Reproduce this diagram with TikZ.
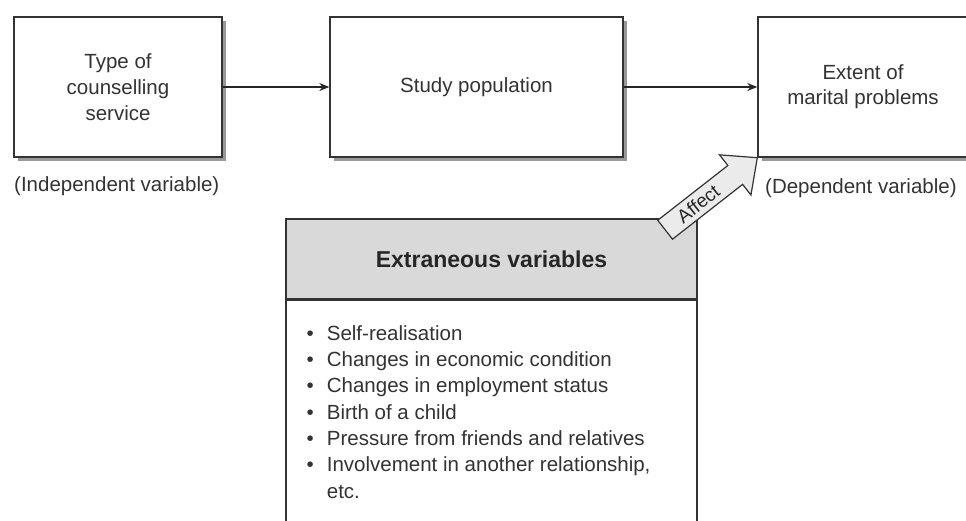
\documentclass[tikz,border=0pt]{standalone}
\usepackage{fontspec}
\setmainfont{Liberation Sans}
\usetikzlibrary{arrows.meta,shadows}
\begin{document}
\begin{tikzpicture}[x=1pt,y=-1pt,
  box/.style={draw=black!80, line width=1.4pt, fill=white, minimum width=#1,
    minimum height=140pt, align=center, font=\fontsize{20.5}{25}\selectfont,
    text=black!80, inner sep=0pt,
    drop shadow={shadow xshift=3.5pt, shadow yshift=-3.5pt, fill=black!40, opacity=1}},
  conn/.style={draw=black!85, line width=1.2pt, -{Stealth[length=10pt,width=8pt]}},
  lbl/.style={inner sep=0pt, font=\fontsize{20.5}{25}\selectfont, text=black!80},
  affectarrow/.style={draw=black!80, line width=1.2pt, fill=black!8, line join=miter}
]
\useasboundingbox (0,0) rectangle (966,520);

% top row
\node[box=208pt] (b1) at (118,87) {Type of\\[1pt]counselling\\[1pt]service};
\node[box=293pt] (b2) at (476.5,87) {Study population};
\node[box=210pt] (b3) at (863,87) {Extent of\\marital problems};
\draw[conn] (b1.east) -- (b2.west);
\draw[conn] (b2.east) -- (b3.west);

\node[lbl, anchor=west] (indep) at (14,186) {(Independent variable)};
\node[lbl, anchor=west] (dep) at (765,188) {(Dependent variable)};

% extraneous variables box
\node[draw=black!80, line width=1.4pt, fill=black!15, minimum width=411pt,
  minimum height=80pt, inner sep=0pt, text=black!85,
  font=\bfseries\fontsize{23}{28}\selectfont] (ext) at (491.5,259) {Extraneous variables};
\node[draw=black!80, line width=1.4pt, fill=white, minimum width=411pt,
  minimum height=240pt, anchor=north, inner sep=0pt] (body) at (ext.south) {};
\node[anchor=north west, inner sep=0pt, text=black!80, align=left,
  font=\fontsize{20.5}{26.3}\selectfont] (list) at (306.5,321.6)
{\begin{tabular}{@{}l@{\hspace{13pt}}l@{}}
\textbullet & Self-realisation\\
\textbullet & Changes in economic condition\\
\textbullet & Changes in employment status\\
\textbullet & Birth of a child\\
\textbullet & Pressure from friends and relatives\\
\textbullet & Involvement in another relationship,\\
 & etc.
\end{tabular}};

% affect arrow
\begin{scope}[shift={(b3.south west)}, rotate=38]
  \draw[affectarrow] (0,0) -- (-28pt,25.5pt) -- (-28pt,12pt) -- (-117pt,12pt)
    -- (-117pt,-12pt) -- (-28pt,-12pt) -- (-28pt,-25.5pt) -- cycle;
  \node[rotate=38, inner sep=0pt, text=black!85, font=\fontsize{19}{19}\selectfont]
    (affect) at (-75pt,0pt) {Affect};
\end{scope}
\end{tikzpicture}
\end{document}
